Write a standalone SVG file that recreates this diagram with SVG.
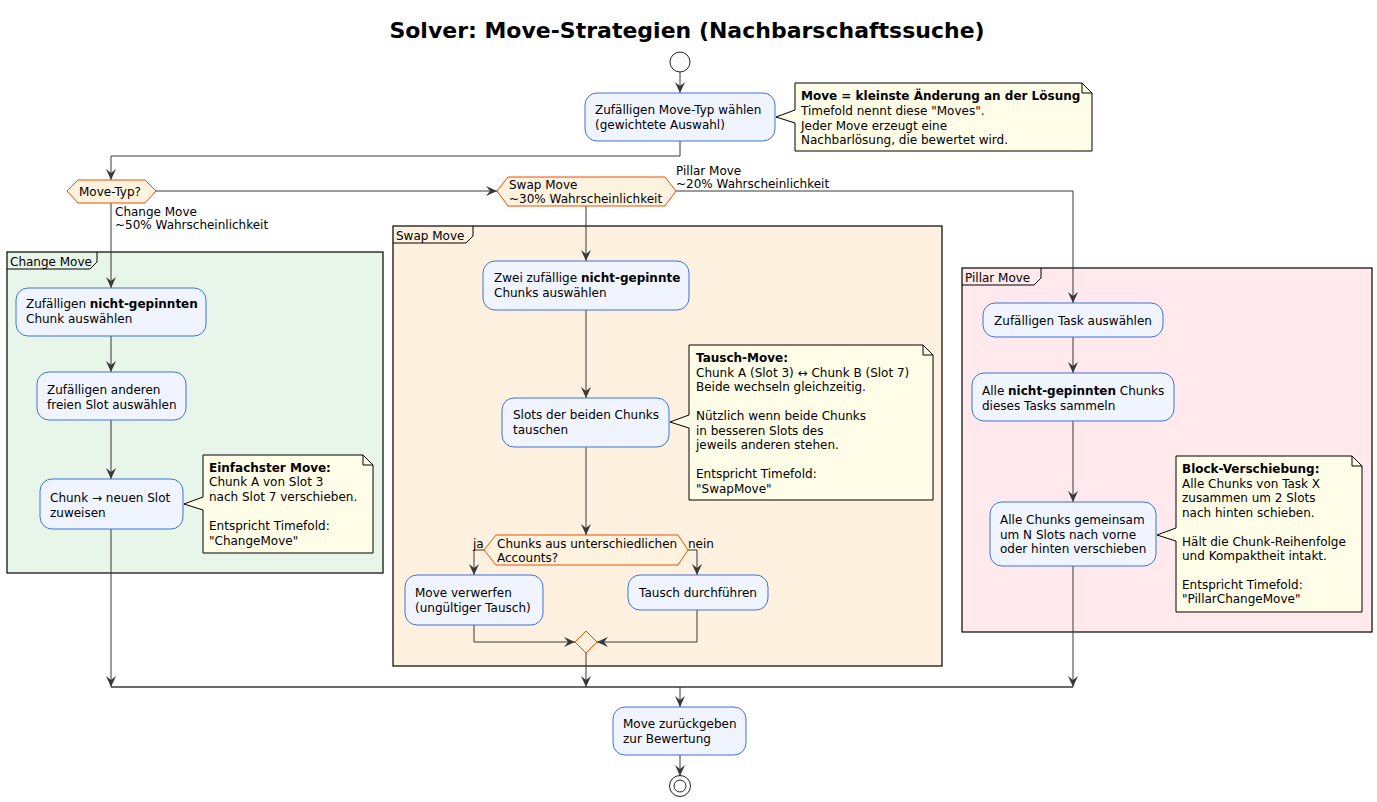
<svg xmlns="http://www.w3.org/2000/svg" width="1377" height="802" viewBox="0 0 1377 802">
<style>
text{font-family:"DejaVu Sans",Verdana,sans-serif;font-size:12px;fill:#000}
.title{font-size:22px;font-weight:bold}
.b{font-weight:bold}
.node{fill:#F0F4FF;stroke:#3F72D8;stroke-width:1}
.dec{fill:#FFF3E0;stroke:#E65100;stroke-width:1}
.note{fill:#FFFDE7;stroke:#000;stroke-width:1}
.grp{stroke:#000;stroke-width:1.2}
.tab{fill:none;stroke:#000;stroke-width:1}
.ln{fill:none;stroke:#383838;stroke-width:1}
.arr{fill:none;stroke:#383838;stroke-width:1;marker-end:url(#ah)}
</style>
<defs>
<marker id="ah" markerWidth="12" markerHeight="12" refX="11" refY="5" orient="auto" markerUnits="userSpaceOnUse">
<path d="M0,0 L11,5 L0,10 L4,5 Z" fill="#383838"/>
</marker>
</defs>
<rect width="1377" height="802" fill="#fff"/>
<text class="title" x="687" y="38" text-anchor="middle">Solver: Move-Strategien (Nachbarschaftssuche)</text>

<g id="groups">
<g id="grp-change">
<rect class="grp" x="7" y="252" width="376" height="321" fill="#E8F5E9"/>
<path class="tab" d="M7,269 L90,269 L97,262 L97,252"/>
<text x="10" y="266">Change Move</text>
</g>
<g id="grp-swap">
<rect class="grp" x="393" y="226" width="549" height="440" fill="#FFF1DF"/>
<path class="tab" d="M393,243 L466,243 L473,236 L473,226"/>
<text x="396" y="240">Swap Move</text>
</g>
<g id="grp-pillar">
<rect class="grp" x="962" y="268" width="410" height="364" fill="#FFE9EC"/>
<path class="tab" d="M962,285 L1034,285 L1041,278 L1041,268"/>
<text x="965" y="282">Pillar Move</text>
</g>
</g>

<g id="connectors">
<path class="arr" d="M680,72 L680,93"/>
<path class="arr" d="M680,141 L680,156 L111,156 L111,180"/>
<path class="arr" d="M156,191 L497,191"/>
<path class="arr" d="M676,191 L1073,191 L1073,303"/>
<path class="arr" d="M111,203 L111,288"/>
<path class="arr" d="M586,206 L586,261"/>
<path class="arr" d="M111,336 L111,372"/>
<path class="arr" d="M111,420 L111,479"/>
<path class="arr" d="M111,529 L111,687"/>
<path class="arr" d="M586,310 L586,398"/>
<path class="arr" d="M586,447 L586,535"/>
<path class="arr" d="M484,550 L474,550 L474,575"/>
<path class="arr" d="M688,550 L697,550 L697,575"/>
<path class="arr" d="M474,625 L474,642 L575,642"/>
<path class="arr" d="M697,610 L697,642 L597,642"/>
<path class="arr" d="M586,653 L586,687"/>
<path class="arr" d="M1073,337 L1073,373"/>
<path class="arr" d="M1073,421 L1073,502"/>
<path class="arr" d="M1073,566 L1073,687"/>
<path d="M111,687 L1073,687" fill="none" stroke="#383838" stroke-width="1.5"/>
<path class="arr" d="M680,687 L680,707"/>
<path class="arr" d="M680,755 L680,776"/>
<text x="115" y="216">Change Move</text>
<text x="115" y="229">~50% Wahrscheinlichkeit</text>
<text x="676" y="175">Pillar Move</text>
<text x="676" y="188">~20% Wahrscheinlichkeit</text>
<text x="473" y="548">ja</text>
<text x="688" y="548">nein</text>
</g>

<g id="start"><circle cx="680" cy="62" r="10" fill="#fff" stroke="#222" stroke-width="1"/></g>

<g id="n-choose">
<rect class="node" x="585" y="93" width="190" height="48" rx="12"/>
<text x="595" y="114">Zufälligen Move-Typ wählen</text>
<text x="595" y="129">(gewichtete Auswahl)</text>
</g>
<g id="note-move">
<path class="note" d="M795,83 L1082,83 L1092,93 L1092,151 L795,151 L795,123 L776,117 L795,110 Z"/>
<path class="tab" d="M1082,83 L1082,93 L1092,93"/>
<text x="801" y="100" class="b">Move = kleinste Änderung an der Lösung</text>
<text x="801" y="115">Timefold nennt diese "Moves".</text>
<text x="801" y="130">Jeder Move erzeugt eine</text>
<text x="801" y="144">Nachbarlösung, die bewertet wird.</text>
</g>

<g id="d-type">
<polygon class="dec" points="67,191 78,180 145,180 156,191 145,203 78,203"/>
<text x="79" y="196">Move-Typ?</text>
</g>
<g id="d-swap">
<polygon class="dec" points="497,191 508,177 665,177 676,191 665,206 508,206"/>
<text x="509" y="189">Swap Move</text>
<text x="509" y="203">~30% Wahrscheinlichkeit</text>
</g>

<g id="n-c1">
<rect class="node" x="16" y="288" width="190" height="48" rx="12"/>
<text x="26" y="308">Zufälligen <tspan class="b">nicht-gepinnten</tspan></text>
<text x="26" y="323">Chunk auswählen</text>
</g>
<g id="n-c2">
<rect class="node" x="37" y="372" width="149" height="48" rx="12"/>
<text x="47" y="394">Zufälligen anderen</text>
<text x="47" y="409">freien Slot auswählen</text>
</g>
<g id="n-c3">
<rect class="node" x="40" y="479" width="143" height="50" rx="12"/>
<text x="50" y="502">Chunk → neuen Slot</text>
<text x="50" y="517">zuweisen</text>
</g>
<g id="note-change">
<path class="note" d="M203,455 L363,455 L373,465 L373,553 L203,553 L203,510 L184,504 L203,497 Z"/>
<path class="tab" d="M363,455 L363,465 L373,465"/>
<text x="209" y="472" class="b">Einfachster Move:</text>
<text x="209" y="486">Chunk A von Slot 3</text>
<text x="209" y="501">nach Slot 7 verschieben.</text>
<text x="209" y="530">Entspricht Timefold:</text>
<text x="209" y="545">"ChangeMove"</text>
</g>

<g id="n-s1">
<rect class="node" x="483" y="261" width="206" height="49" rx="12"/>
<text x="494" y="282">Zwei zufällige <tspan class="b">nicht-gepinnte</tspan></text>
<text x="494" y="297">Chunks auswählen</text>
</g>
<g id="n-s2">
<rect class="node" x="502" y="398" width="167" height="49" rx="12"/>
<text x="513" y="419">Slots der beiden Chunks</text>
<text x="513" y="434">tauschen</text>
</g>
<g id="note-swap">
<path class="note" d="M689,345 L923,345 L933,355 L933,500 L689,500 L689,428 L670,422 L689,415 Z"/>
<path class="tab" d="M923,345 L923,355 L933,355"/>
<text x="696" y="362" class="b">Tausch-Move:</text>
<text x="696" y="377">Chunk A (Slot 3) ↔ Chunk B (Slot 7)</text>
<text x="696" y="391">Beide wechseln gleichzeitig.</text>
<text x="696" y="420">Nützlich wenn beide Chunks</text>
<text x="696" y="435">in besseren Slots des</text>
<text x="696" y="449">jeweils anderen stehen.</text>
<text x="696" y="478">Entspricht Timefold:</text>
<text x="696" y="493">"SwapMove"</text>
</g>
<g id="d-accounts">
<polygon class="dec" points="484,550 496,535 678,535 688,550 678,565 496,565"/>
<text x="497" y="548">Chunks aus unterschiedlichen</text>
<text x="497" y="562">Accounts?</text>
</g>
<g id="n-s3">
<rect class="node" x="405" y="575" width="138" height="50" rx="12"/>
<text x="415" y="597">Move verwerfen</text>
<text x="415" y="612">(ungültiger Tausch)</text>
</g>
<g id="n-s4">
<rect class="node" x="628" y="575" width="140" height="35" rx="12"/>
<text x="698" y="597" text-anchor="middle">Tausch durchführen</text>
</g>
<g id="merge-swap">
<polygon class="dec" points="586,631 597,642 586,653 575,642" fill="#FFF1DF"/>
</g>

<g id="n-p1">
<rect class="node" x="983" y="303" width="180" height="34" rx="12"/>
<text x="1073" y="325" text-anchor="middle">Zufälligen Task auswählen</text>
</g>
<g id="n-p2">
<rect class="node" x="972" y="373" width="202" height="48" rx="12"/>
<text x="982" y="395">Alle <tspan class="b">nicht-gepinnten</tspan> Chunks</text>
<text x="982" y="410">dieses Tasks sammeln</text>
</g>
<g id="n-p3">
<rect class="node" x="990" y="502" width="166" height="64" rx="12"/>
<text x="1000" y="524">Alle Chunks gemeinsam</text>
<text x="1000" y="539">um N Slots nach vorne</text>
<text x="1000" y="553">oder hinten verschieben</text>
</g>
<g id="note-pillar">
<path class="note" d="M1176,456 L1352,456 L1362,466 L1362,612 L1176,612 L1176,541 L1157,535 L1176,528 Z"/>
<path class="tab" d="M1352,456 L1352,466 L1362,466"/>
<text x="1182" y="473" class="b">Block-Verschiebung:</text>
<text x="1182" y="488">Alle Chunks von Task X</text>
<text x="1182" y="502">zusammen um 2 Slots</text>
<text x="1182" y="517">nach hinten schieben.</text>
<text x="1182" y="546">Hält die Chunk-Reihenfolge</text>
<text x="1182" y="560">und Kompaktheit intakt.</text>
<text x="1182" y="589">Entspricht Timefold:</text>
<text x="1182" y="603">"PillarChangeMove"</text>
</g>

<g id="n-return">
<rect class="node" x="613" y="707" width="133" height="48" rx="12"/>
<text x="623" y="728">Move zurückgeben</text>
<text x="623" y="743">zur Bewertung</text>
</g>
<g id="end">
<circle cx="680" cy="786" r="10.5" fill="#fff" stroke="#222" stroke-width="1"/>
<circle cx="680" cy="786" r="6" fill="#fff" stroke="#222" stroke-width="1"/>
</g>
</svg>
